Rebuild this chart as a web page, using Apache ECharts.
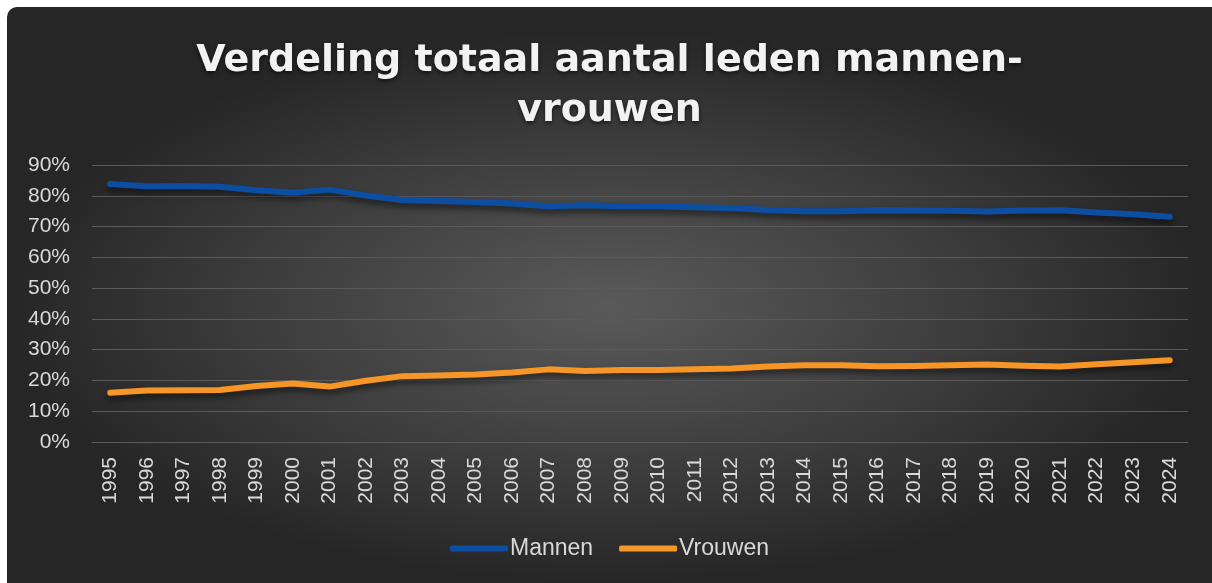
<!DOCTYPE html>
<html>
<head>
<meta charset="utf-8">
<script src="https://cdn.jsdelivr.net/npm/echarts@6/dist/echarts.min.js"></script>
<style>
  html, body { margin: 0; padding: 0; background: #ffffff; }
  #chart {
    position: absolute; left: 7px; top: 7px; width: 1205px; height: 576px;
    border-radius: 10px 0 0 0; overflow: hidden;
    background: radial-gradient(ellipse closest-side at 50% 52%, #5a5a5a 0%, #3c3c3c 60%, #262626 100%);
    background-color: #262626;
  }
</style>
</head>
<body>
<div id="chart"></div>
<script>
// jaren
const years = ['1995','1996','1997','1998','1999','2000','2001','2002','2003','2004',
  '2005','2006','2007','2008','2009','2010','2011','2012','2013','2014',
  '2015','2016','2017','2018','2019','2020','2021','2022','2023','2024'];

// aandeel mannen (fractie)
const mannen = [0.838, 0.831, 0.832, 0.829, 0.818, 0.810, 0.820, 0.801, 0.786, 0.783,
  0.780, 0.775, 0.766, 0.769, 0.766, 0.766, 0.763, 0.760, 0.754, 0.750,
  0.750, 0.753, 0.752, 0.751, 0.749, 0.752, 0.753, 0.746, 0.740, 0.732];

// aandeel vrouwen (fractie)
const vrouwen = [0.160, 0.167, 0.168, 0.169, 0.182, 0.190, 0.180, 0.199, 0.214, 0.216,
  0.219, 0.226, 0.236, 0.231, 0.234, 0.234, 0.236, 0.239, 0.245, 0.249,
  0.249, 0.246, 0.247, 0.249, 0.252, 0.248, 0.245, 0.253, 0.259, 0.266];

const chart = echarts.init(document.getElementById('chart'));

const lineShadow = {
  shadowColor: 'rgba(0,0,0,0.55)',
  shadowBlur: 6,
  shadowOffsetY: 4
};

chart.setOption({
  backgroundColor: 'transparent',
  animation: false,
  title: {
    text: 'Verdeling totaal aantal leden mannen-\nvrouwen',
    left: 'center',
    top: 24,
    textStyle: {
      fontFamily: 'DejaVu Sans',
      fontWeight: 'bold',
      fontSize: 38,
      lineHeight: 50,
      color: '#f2f2f2',
      textShadowColor: 'rgba(0,0,0,0.6)',
      textShadowBlur: 4,
      textShadowOffsetY: 2
    }
  },
  legend: {
    bottom: 18,
    left: 'center',
    itemGap: 26,
    itemWidth: 58,
    itemHeight: 6,
    icon: 'roundRect',
    textStyle: {
      color: '#d9d9d9',
      fontFamily: 'Liberation Sans',
      fontSize: 23,
      padding: [0, 0, 0, -3]
    },
    data: ['Mannen', 'Vrouwen']
  },
  grid: {
    left: 85,
    right: 24,
    top: 158,
    bottom: 141
  },
  xAxis: {
    type: 'category',
    data: years,
    boundaryGap: true,
    axisLine: { lineStyle: { color: '#5a5a5a', width: 1 } },
    axisTick: { show: false },
    axisLabel: {
      rotate: 90,
      margin: 15,
      color: '#d9d9d9',
      fontFamily: 'Liberation Sans',
      fontSize: 21,
      interval: 0
    }
  },
  yAxis: {
    type: 'value',
    min: 0,
    max: 0.9,
    interval: 0.1,
    axisLine: { show: false },
    axisTick: { show: false },
    splitLine: { lineStyle: { color: '#5a5a5a', width: 1 } },
    axisLabel: {
      margin: 22,
      color: '#d9d9d9',
      fontFamily: 'Liberation Sans',
      fontSize: 21,
      formatter: v => Math.round(v * 100) + '%'
    }
  },
  series: [
    {
      name: 'Mannen',
      type: 'line',
      data: mannen,
      symbol: 'none',
      color: '#0c4fa2',
      lineStyle: Object.assign({ width: 6, color: '#0c4fa2', cap: 'round', join: 'round' }, lineShadow)
    },
    {
      name: 'Vrouwen',
      type: 'line',
      data: vrouwen,
      symbol: 'none',
      color: '#f79525',
      lineStyle: Object.assign({ width: 6, color: '#f79525', cap: 'round', join: 'round' }, lineShadow)
    }
  ]
});
</script>
</body>
</html>
